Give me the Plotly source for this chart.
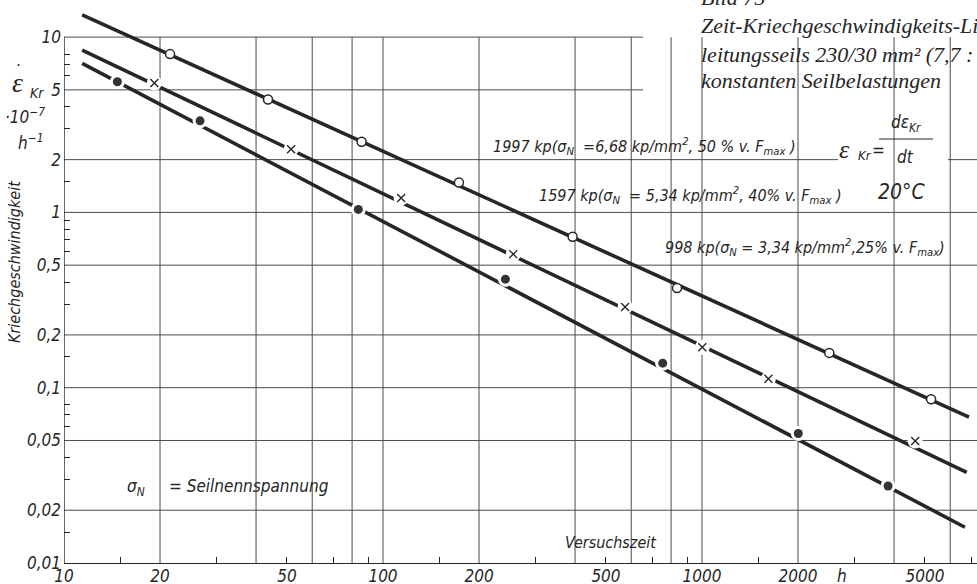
import plotly.graph_objects as go

# ---------------- data ----------------
# fitted creep-rate lines: start / end points (time in h, rate in 1e-7 1/h)
line_1997_x = [11.4, 6870]
line_1997_y = [13.4, 0.068]
line_1597_x = [11.4, 6760]
line_1597_y = [8.43, 0.0329]
line_998_x = [11.4, 6670]
line_998_y = [7.08, 0.016]

# measured points
t_1997 = [21.5, 43.6, 85.7, 173, 393, 835, 2506, 5226]
v_1997 = [8.0, 4.41, 2.53, 1.48, 0.726, 0.37, 0.158, 0.086]
t_1597 = [19.2, 51.5, 114, 256, 574, 1002, 1615, 4660]
v_1597 = [5.48, 2.29, 1.21, 0.578, 0.289, 0.170, 0.1125, 0.0497]
t_998 = [14.7, 26.7, 83.7, 242, 753, 2004, 3830]
v_998 = [5.56, 3.33, 1.04, 0.416, 0.138, 0.0548, 0.0275]

# leader-line tips (where the label arrows touch the lines)
leader_x = [246.6, 439, 1180]
leader_y = [1.09, 0.37, 0.0884]

x_tick_vals = [10, 20, 50, 100, 200, 500, 1000, 2000, 5000]
x_tick_text = ["10", "20", "50", "100", "200", "500", "1000", "2000", "5000"]
y_tick_vals = [10, 5, 2, 1, 0.5, 0.2, 0.1, 0.05, 0.02, 0.01]
y_tick_text = ["10", "5", "2", "1", "0,5", "0,2", "0,1", "0,05", "0,02", "0,01"]
x_grid = [20, 40, 60, 80, 100, 200, 400, 600, 800, 1000, 2000, 4000, 6000]
y_grid = [10, 5, 2, 1, 0.5, 0.2, 0.1, 0.05, 0.02]
x_minor = [15, 30, 50, 70, 90, 150, 300, 500, 700, 900, 1500, 3000, 5000, 7000]
y_minor = [8, 7, 6, 4, 3, 1.5, 0.9, 0.8, 0.7, 0.6, 0.4, 0.3, 0.15,
           0.08, 0.07, 0.06, 0.04, 0.03, 0.015]

# ---------------- geometry / style ----------------
W, H = 977, 584
L, R, T, B = 64, 0, 5, 21
PW, PH = W - L - R, H - T - B
X_DEC = 319.0    # px per decade on x
Y_DEC = 175.3    # px per decade on y
x_range = [1, 1 + PW / X_DEC]
y_range = [-2, -2 + PH / Y_DEC]

INK = "#262626"
GRID = "#4a4a4a"
NARROW = "Liberation Sans Narrow, DejaVu Sans Condensed, Liberation Sans, sans-serif"
SERIF = "Liberation Serif, DejaVu Serif, serif"


def fx(px):
    return (px - L) / PW


def fy(py):
    return (H - B - py) / PH


fig = go.Figure()

# fitted lines
for lx, ly in [(line_1997_x, line_1997_y), (line_1597_x, line_1597_y), (line_998_x, line_998_y)]:
    fig.add_trace(go.Scatter(x=lx, y=ly, mode="lines",
                             line=dict(color=INK, width=3.6),
                             hoverinfo="skip", showlegend=False))

# white halos -> gaps in the lines around the x and filled markers
fig.add_trace(go.Scatter(x=t_1597 + t_998, y=v_1597 + v_998, mode="markers",
                         marker=dict(symbol="circle", size=15, color="white"),
                         hoverinfo="skip", showlegend=False))

fig.add_trace(go.Scatter(x=t_1997, y=v_1997, mode="markers", name="1997 kp",
                         marker=dict(symbol="circle", size=9, color="white",
                                     line=dict(color=INK, width=1.5)),
                         showlegend=False))
fig.add_trace(go.Scatter(x=t_1597, y=v_1597, mode="markers", name="1597 kp",
                         marker=dict(symbol="x-thin", size=8, color=INK,
                                     line=dict(color=INK, width=1.4)),
                         showlegend=False))
fig.add_trace(go.Scatter(x=t_998, y=v_998, mode="markers", name="998 kp",
                         marker=dict(symbol="circle", size=9, color="#333333"),
                         showlegend=False))

# ---------------- grid (shapes) ----------------
shapes = []
for gx in x_grid:
    shapes.append(dict(type="line", xref="x", yref="y", x0=gx, x1=gx, y0=0.01, y1=10,
                       line=dict(color=GRID, width=1), layer="below"))
for gy in y_grid:
    shapes.append(dict(type="line", xref="paper", yref="y", x0=0, x1=1, y0=gy, y1=gy,
                       line=dict(color=GRID, width=1), layer="below"))
# left spine from 0.01 to 10
shapes.append(dict(type="line", xref="x", yref="y", x0=10, x1=10, y0=0.01, y1=10,
                   line=dict(color=INK, width=1.4), layer="below"))

# white label boxes that interrupt the grid
masks = [
    (643, 980, -10, 115),   # title block
    (490, 838, 113, 158),   # 1997 label
    (838, 948, 100, 176),   # formula
    (535, 840, 168, 210),   # 1597 label
    (860, 940, 176, 208),   # 20 °C
    (660, 955, 232, 262),   # 998 label
    (120, 325, 466, 507),   # sigma label
    (560, 655, 528, 558),   # Versuchszeit
]
for x0, x1, y0, y1 in masks:
    shapes.append(dict(type="rect", xref="paper", yref="paper",
                       x0=fx(x0), x1=fx(x1), y0=fy(y1), y1=fy(y0),
                       line=dict(width=0), fillcolor="white", layer="below"))
# fraction bar of the formula
shapes.append(dict(type="line", xref="paper", yref="paper",
                   x0=fx(879), x1=fx(933), y0=fy(139), y1=fy(139),
                   line=dict(color=INK, width=1.2)))

# ---------------- text ----------------
ann = []


def A(text, px, py, size=16, xanchor="left", yanchor="middle", family=NARROW,
      italic=True, angle=0):
    ann.append(dict(text=text, x=fx(px), y=fy(py), xref="paper", yref="paper",
                    xanchor=xanchor, yanchor=yanchor, showarrow=False, textangle=angle,
                    font=dict(family=family, size=size, color=INK,
                              style="italic" if italic else "normal")))


# title block (serif, cut at the figure edge)
A("Bild 75", 699, -3, size=22, family=SERIF)
A("Zeit-Kriechgeschwindigkeits-Linien eines", 699, 26, size=22, family=SERIF)
A("leitungsseils 230/30 mm² (7,7 : 1) bei", 699, 54, size=22, family=SERIF)
A("konstanten Seilbelastungen", 699, 80, size=22, family=SERIF)

# y-axis quantity
A("ε", 17, 83, size=28, xanchor="center", family=SERIF)
A("·", 18, 66, size=16, xanchor="center")
A("Kr", 28, 93, size=14)
A("·10<sup>−7</sup>", 25, 116, size=17, xanchor="center")
A("h<sup>−1</sup>", 30, 142, size=17, xanchor="center")
A("Kriechgeschwindigkeit", 14, 262, size=16, xanchor="center", angle=-90)

# formula and temperature
A("ε", 844, 150, size=26, xanchor="center", family=SERIF)
A("Kr", 856, 155, size=13)
A("=", 870, 150, size=17)
A("dε<sub>Kr</sub>", 906, 124, size=17, xanchor="center")
A("dt", 905, 157, size=17, xanchor="center")
A("20°C", 901, 192, size=21, xanchor="center")

# series labels
A("1997 kp(σ<sub>N</sub>  =6,68 kp/mm<sup>2</sup>, 50 % v. F<sub>max</sub> )", 491, 147, size=16)
A("1597 kp(σ<sub>N</sub>  = 5,34 kp/mm<sup>2</sup>, 40% v. F<sub>max</sub> )", 537, 195, size=16)
A("998 kp(σ<sub>N</sub> = 3,34 kp/mm<sup>2</sup>,25% v. F<sub>max</sub>)", 663, 247, size=16)
A("σ<sub>N</sub>     = Seilnennspannung", 125, 487, size=17)
A("Versuchszeit", 563, 542, size=16)
A("h", 842, 576, size=17, xanchor="center")

# leader arrows (tail offset in px from tip)
leader_tail = [(32, -49), (40, -80), (58, -138)]
for (tx, ty), (ax, ay) in zip(zip(leader_x, leader_y), leader_tail):
    ann.append(dict(x=tx, y=ty, xref="x", yref="y", ax=ax, ay=ay, axref="pixel", ayref="pixel",
                    text="", showarrow=True, arrowhead=4, arrowsize=1.0, arrowwidth=1.0,
                    arrowcolor=INK))

fig.update_layout(
    width=W, height=H,
    margin=dict(l=L, r=R, t=T, b=B, autoexpand=False),
    paper_bgcolor="white", plot_bgcolor="white",
    shapes=shapes, annotations=ann,
    xaxis=dict(type="log", range=x_range, showgrid=False, zeroline=False, automargin=False,
               tickmode="array", tickvals=x_tick_vals, ticktext=x_tick_text, ticks="",
               ticklabelstandoff=-3,
               showline=True, linecolor=INK, linewidth=1.4,
               tickfont=dict(family=NARROW, size=17, color=INK, style="italic"),
               minor=dict(tickmode="array", tickvals=x_minor, ticks="inside",
                          ticklen=6, tickwidth=1, tickcolor=INK, showgrid=False)),
    yaxis=dict(type="log", range=y_range, showgrid=False, zeroline=False, automargin=False,
               tickmode="array", tickvals=y_tick_vals, ticktext=y_tick_text, ticks="",
               ticklabelstandoff=2,
               showline=False,
               tickfont=dict(family=NARROW, size=17, color=INK, style="italic"),
               minor=dict(tickmode="array", tickvals=y_minor, ticks="inside",
                          ticklen=6, tickwidth=1, tickcolor=INK, showgrid=False)),
)

fig.write_html("out.html", config={"displayModeBar": False},
               post_script="document.body.style.margin='0';document.body.style.overflow='hidden';")
